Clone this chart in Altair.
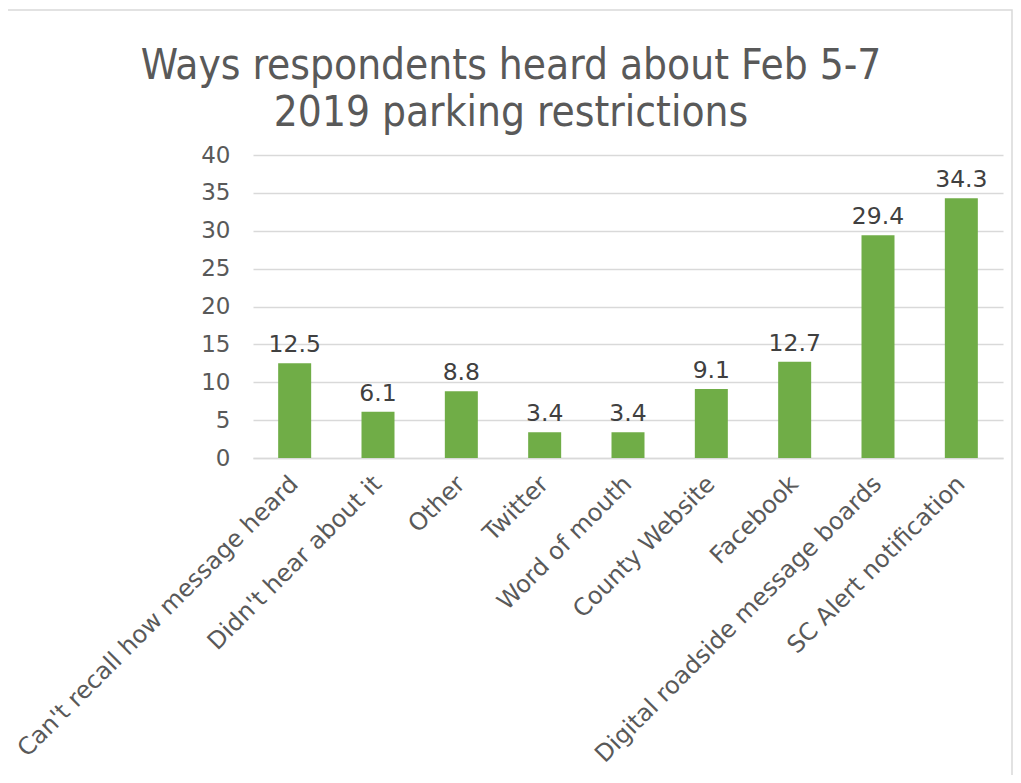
import altair as alt
import pandas as pd

title_lines = ["Ways respondents heard about Feb 5-7", "2019 parking restrictions"]
categories = [
    "Can't recall how message heard",
    "Didn't hear about it",
    "Other",
    "Twitter",
    "Word of mouth",
    "County  Website",
    "Facebook",
    "Digital roadside message boards",
    "SC Alert notification",
]
values = [12.5, 6.1, 8.8, 3.4, 3.4, 9.1, 12.7, 29.4, 34.3]
y_ticks = [0, 5, 10, 15, 20, 25, 30, 35, 40]

df = pd.DataFrame({"cat": categories, "val": values})
df["label"] = [f"{v:.1f}" for v in values]

FONT = "DejaVu Sans"

x_enc = alt.X(
    "cat:N",
    sort=categories,
    title=None,
    scale=alt.Scale(paddingInner=0.604, paddingOuter=0.302),
    axis=alt.Axis(
        labelAngle=-45,
        labelAlign="right",
        labelBaseline="middle",
        labelFontSize=24,
        labelColor="#595959",
        labelFont=FONT,
        labelPadding=22,
        ticks=False,
        domain=True,
        domainColor="#D9D9D9",
        domainWidth=1.5,
        grid=False,
        labelLimit=600,
        labelOverlap=False,
    ),
)
y_enc = alt.Y(
    "val:Q",
    title=None,
    scale=alt.Scale(domain=[0, 40], nice=False),
    axis=alt.Axis(
        values=y_ticks,
        labelFontSize=23,
        labelColor="#595959",
        labelFont=FONT,
        labelPadding=23,
        ticks=False,
        domain=False,
        grid=True,
        gridColor="#D9D9D9",
        gridWidth=1.5,
        labelOverlap=False,
    ),
)

base = alt.Chart(df).encode(x=x_enc, y=y_enc)
bars = base.mark_bar(color="#70AD47")
texts = base.mark_text(
    dy=-11, fontSize=23.5, color="#404040", font=FONT, baseline="alphabetic"
).encode(text="label:N")

border = alt.Chart(pd.DataFrame({"a": [0]})).mark_rect(
    filled=False, stroke="#D9D9D9", strokeWidth=1.5, clip=False
).encode(
    x=alt.value(-246), x2=alt.value(759), y=alt.value(-145), y2=alt.value(700)
)

title = alt.Chart(pd.DataFrame({"a": [0]})).mark_text(
    text=title_lines,
    fontSize=42,
    font="DejaVu Sans Condensed",
    color="#595959",
    align="center",
    baseline="alphabetic",
    lineHeight=47,
).encode(x=alt.value(258), y=alt.value(-76))

chart = (
    alt.layer(border, title, bars, texts)
    .properties(
        width=750,
        height=303,
        background="white",
        autosize=alt.AutoSizeParams(type="none"),
        padding={"left": 245, "right": 10, "top": 147, "bottom": 317},
    )
    .configure_view(stroke=None, strokeWidth=0)
)

chart.save("out.html", embed_options={"renderer": "svg", "actions": False})
